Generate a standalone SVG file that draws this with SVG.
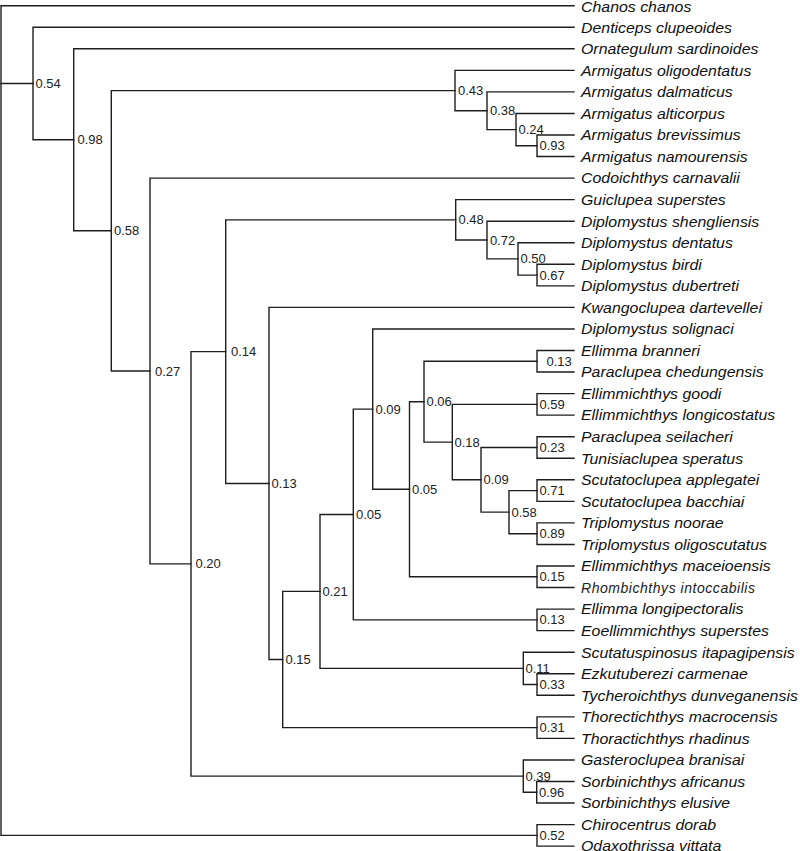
<svg xmlns="http://www.w3.org/2000/svg" width="800" height="851" viewBox="0 0 800 851">
<style>
.c{fill:none;stroke:#1e1e1e;stroke-width:1.4;stroke-linecap:square}
.t{font-family:"Liberation Sans",Arial,sans-serif;font-style:italic;font-size:15px;fill:#111}
.s{font-family:"Liberation Sans",Arial,sans-serif;font-size:13px;fill:#222}
.r{font-family:"Liberation Sans",Arial,sans-serif;font-style:italic;font-size:14px;fill:#222}
</style>
<rect width="800" height="851" fill="#fff"/>
<g id="connectors">
<path class="c" d="M574,5.7 H1 V835.4 H537"/>
<path class="c" d="M1,83.5 H33"/>
<path class="c" d="M574,27.25 H33 V139.8 H73.7"/>
<path class="c" d="M574,48.8 H73.7 V230.8 H111.3"/>
<path class="c" d="M455,90.6 H111.3 V371 H150"/>
<path class="c" d="M574,70.35 H455 V110.8 H487"/>
<path class="c" d="M574,91.9 H487 V129.6 H516"/>
<path class="c" d="M574,113.45 H516 V145.8 H537"/>
<path class="c" d="M574,135 H537 V156.55 H574"/>
<path class="c" d="M574,178.1 H150 V563.9 H191"/>
<path class="c" d="M225.7,351.65 H191 V776.1 H523.3"/>
<path class="c" d="M455.7,219.85 H225.7 V483.45 H269"/>
<path class="c" d="M574,199.65 H455.7 V240.05 H487"/>
<path class="c" d="M574,221.2 H487 V258.9 H518"/>
<path class="c" d="M574,242.75 H518 V275.1 H537"/>
<path class="c" d="M574,264.3 H537 V285.85 H574"/>
<path class="c" d="M574,307.4 H269 V659.5 H282.7"/>
<path class="c" d="M320,591.4 H282.7 V727.6 H537"/>
<path class="c" d="M353.3,514.5 H320 V668.35 H523.3"/>
<path class="c" d="M372.7,409.1 H353.3 V619.9 H537"/>
<path class="c" d="M574,328.95 H372.7 V489.25 H409.5"/>
<path class="c" d="M424,401.7 H409.5 V576.8 H537"/>
<path class="c" d="M537,361.3 H424 V442.1 H452.3"/>
<path class="c" d="M574,350.5 H537 V372.05 H574"/>
<path class="c" d="M537,404.4 H452.3 V479.8 H481"/>
<path class="c" d="M574,393.6 H537 V415.15 H574"/>
<path class="c" d="M537,447.5 H481 V512.1 H509"/>
<path class="c" d="M574,436.7 H537 V458.25 H574"/>
<path class="c" d="M537,490.6 H509 V533.7 H537"/>
<path class="c" d="M574,479.8 H537 V501.35 H574"/>
<path class="c" d="M574,522.9 H537 V544.45 H574"/>
<path class="c" d="M574,566 H537 V587.55 H574"/>
<path class="c" d="M574,609.1 H537 V630.65 H574"/>
<path class="c" d="M574,652.2 H523.3 V684.5 H537"/>
<path class="c" d="M574,673.75 H537 V695.3 H574"/>
<path class="c" d="M574,716.85 H537 V738.4 H574"/>
<path class="c" d="M574,759.95 H523.3 V792.3 H536.7"/>
<path class="c" d="M574,781.5 H536.7 V803.05 H574"/>
<path class="c" d="M574,824.6 H537 V846.15 H574"/>
</g>
<g id="leaf-chanos-chanos"><text class="t" transform="translate(581,11.6) scale(1.06,1)">Chanos chanos</text></g>
<g id="leaf-denticeps-clupeoides"><text class="t" transform="translate(581,32.55) scale(1.06,1)">Denticeps clupeoides</text></g>
<g id="leaf-ornategulum-sardinoides"><text class="t" transform="translate(581,54.1) scale(1.06,1)">Ornategulum sardinoides</text></g>
<g id="leaf-armigatus-oligodentatus"><text class="t" transform="translate(581,75.65) scale(1.06,1)">Armigatus oligodentatus</text></g>
<g id="leaf-armigatus-dalmaticus"><text class="t" transform="translate(581,97.2) scale(1.06,1)">Armigatus dalmaticus</text></g>
<g id="leaf-armigatus-alticorpus"><text class="t" transform="translate(581,118.75) scale(1.06,1)">Armigatus alticorpus</text></g>
<g id="leaf-armigatus-brevissimus"><text class="t" transform="translate(581,140.3) scale(1.06,1)">Armigatus brevissimus</text></g>
<g id="leaf-armigatus-namourensis"><text class="t" transform="translate(581,161.85) scale(1.06,1)">Armigatus namourensis</text></g>
<g id="leaf-codoichthys-carnavalii"><text class="t" transform="translate(581,183.4) scale(1.06,1)">Codoichthys carnavalii</text></g>
<g id="leaf-guiclupea-superstes"><text class="t" transform="translate(581,204.95) scale(1.06,1)">Guiclupea superstes</text></g>
<g id="leaf-diplomystus-shengliensis"><text class="t" transform="translate(581,226.5) scale(1.06,1)">Diplomystus shengliensis</text></g>
<g id="leaf-diplomystus-dentatus"><text class="t" transform="translate(581,248.05) scale(1.06,1)">Diplomystus dentatus</text></g>
<g id="leaf-diplomystus-birdi"><text class="t" transform="translate(581,269.6) scale(1.06,1)">Diplomystus birdi</text></g>
<g id="leaf-diplomystus-dubertreti"><text class="t" transform="translate(581,291.15) scale(1.06,1)">Diplomystus dubertreti</text></g>
<g id="leaf-kwangoclupea-dartevellei"><text class="t" transform="translate(581,312.7) scale(1.06,1)">Kwangoclupea dartevellei</text></g>
<g id="leaf-diplomystus-solignaci"><text class="t" transform="translate(581,334.25) scale(1.06,1)">Diplomystus solignaci</text></g>
<g id="leaf-ellimma-branneri"><text class="t" transform="translate(581,355.8) scale(1.06,1)">Ellimma branneri</text></g>
<g id="leaf-paraclupea-chedungensis"><text class="t" transform="translate(581,377.35) scale(1.06,1)">Paraclupea chedungensis</text></g>
<g id="leaf-ellimmichthys-goodi"><text class="t" transform="translate(581,398.9) scale(1.06,1)">Ellimmichthys goodi</text></g>
<g id="leaf-ellimmichthys-longicostatus"><text class="t" transform="translate(581,420.45) scale(1.06,1)">Ellimmichthys longicostatus</text></g>
<g id="leaf-paraclupea-seilacheri"><text class="t" transform="translate(581,442) scale(1.06,1)">Paraclupea seilacheri</text></g>
<g id="leaf-tunisiaclupea-speratus"><text class="t" transform="translate(581,463.55) scale(1.06,1)">Tunisiaclupea speratus</text></g>
<g id="leaf-scutatoclupea-applegatei"><text class="t" transform="translate(581,485.1) scale(1.06,1)">Scutatoclupea applegatei</text></g>
<g id="leaf-scutatoclupea-bacchiai"><text class="t" transform="translate(581,506.65) scale(1.06,1)">Scutatoclupea bacchiai</text></g>
<g id="leaf-triplomystus-noorae"><text class="t" transform="translate(581,528.2) scale(1.06,1)">Triplomystus noorae</text></g>
<g id="leaf-triplomystus-oligoscutatus"><text class="t" transform="translate(581,549.75) scale(1.06,1)">Triplomystus oligoscutatus</text></g>
<g id="leaf-ellimmichthys-maceioensis"><text class="t" transform="translate(581,571.3) scale(1.06,1)">Ellimmichthys maceioensis</text></g>
<g id="leaf-rhombichthys-intoccabilis"><text class="r" x="581" y="592.85" textLength="174" lengthAdjust="spacing">Rhombichthys intoccabilis</text></g>
<g id="leaf-ellimma-longipectoralis"><text class="t" transform="translate(581,614.4) scale(1.06,1)">Ellimma longipectoralis</text></g>
<g id="leaf-eoellimmichthys-superstes"><text class="t" transform="translate(581,635.95) scale(1.06,1)">Eoellimmichthys superstes</text></g>
<g id="leaf-scutatuspinosus-itapagipensis"><text class="t" transform="translate(581,657.5) scale(1.06,1)">Scutatuspinosus itapagipensis</text></g>
<g id="leaf-ezkutuberezi-carmenae"><text class="t" transform="translate(581,679.05) scale(1.06,1)">Ezkutuberezi carmenae</text></g>
<g id="leaf-tycheroichthys-dunveganensis"><text class="t" transform="translate(581,700.6) scale(1.06,1)">Tycheroichthys dunveganensis</text></g>
<g id="leaf-thorectichthys-macrocensis"><text class="t" transform="translate(581,722.15) scale(1.06,1)">Thorectichthys macrocensis</text></g>
<g id="leaf-thoractichthys-rhadinus"><text class="t" transform="translate(581,743.7) scale(1.06,1)">Thoractichthys rhadinus</text></g>
<g id="leaf-gasteroclupea-branisai"><text class="t" transform="translate(581,765.25) scale(1.06,1)">Gasteroclupea branisai</text></g>
<g id="leaf-sorbinichthys-africanus"><text class="t" transform="translate(581,786.8) scale(1.06,1)">Sorbinichthys africanus</text></g>
<g id="leaf-sorbinichthys-elusive"><text class="t" transform="translate(581,808.35) scale(1.06,1)">Sorbinichthys elusive</text></g>
<g id="leaf-chirocentrus-dorab"><text class="t" transform="translate(581,829.9) scale(1.06,1)">Chirocentrus dorab</text></g>
<g id="leaf-odaxothrissa-vittata"><text class="t" transform="translate(581,850.6) scale(1.06,1)">Odaxothrissa vittata</text></g>
<g id="node-054"><text class="s" x="35.5" y="88">0.54</text></g>
<g id="node-098"><text class="s" x="77.5" y="144.3">0.98</text></g>
<g id="node-058"><text class="s" x="114" y="235.3">0.58</text></g>
<g id="node-043"><text class="s" x="458" y="95">0.43</text></g>
<g id="node-038"><text class="s" x="490" y="115.2">0.38</text></g>
<g id="node-024"><text class="s" x="518.5" y="134">0.24</text></g>
<g id="node-093"><text class="s" x="539.5" y="150.2">0.93</text></g>
<g id="node-027"><text class="s" x="155" y="375.5">0.27</text></g>
<g id="node-020"><text class="s" x="195.5" y="568.4">0.20</text></g>
<g id="node-014"><text class="s" x="231" y="356.2">0.14</text></g>
<g id="node-048"><text class="s" x="458.5" y="224.3">0.48</text></g>
<g id="node-072"><text class="s" x="490" y="244.5">0.72</text></g>
<g id="node-050"><text class="s" x="520.5" y="263.4">0.50</text></g>
<g id="node-067"><text class="s" x="539.5" y="279.6">0.67</text></g>
<g id="node-013a"><text class="s" x="271.5" y="488">0.13</text></g>
<g id="node-015a"><text class="s" x="285.5" y="664">0.15</text></g>
<g id="node-021"><text class="s" x="322.5" y="595.9">0.21</text></g>
<g id="node-005a"><text class="s" x="356" y="519">0.05</text></g>
<g id="node-009a"><text class="s" x="375.5" y="413.6">0.09</text></g>
<g id="node-005b"><text class="s" x="412" y="493.7">0.05</text></g>
<g id="node-006"><text class="s" x="426.5" y="406.2">0.06</text></g>
<g id="node-013b"><text class="s" x="546.5" y="365.8">0.13</text></g>
<g id="node-018"><text class="s" x="454.5" y="446.6">0.18</text></g>
<g id="node-059"><text class="s" x="539.5" y="408.9">0.59</text></g>
<g id="node-009b"><text class="s" x="483.5" y="484.3">0.09</text></g>
<g id="node-023"><text class="s" x="539.5" y="452">0.23</text></g>
<g id="node-058b"><text class="s" x="511.5" y="516.6">0.58</text></g>
<g id="node-071"><text class="s" x="539.5" y="495.1">0.71</text></g>
<g id="node-089"><text class="s" x="539.5" y="538.2">0.89</text></g>
<g id="node-015b"><text class="s" x="539.5" y="581.3">0.15</text></g>
<g id="node-013c"><text class="s" x="539.5" y="624.4">0.13</text></g>
<g id="node-011"><text class="s" x="525.5" y="672.8">0.11</text></g>
<g id="node-033"><text class="s" x="539.5" y="689">0.33</text></g>
<g id="node-031"><text class="s" x="539.5" y="732.1">0.31</text></g>
<g id="node-039"><text class="s" x="525.5" y="780.6">0.39</text></g>
<g id="node-096"><text class="s" x="539" y="796.8">0.96</text></g>
<g id="node-052"><text class="s" x="539.5" y="839.9">0.52</text></g>
</svg>
